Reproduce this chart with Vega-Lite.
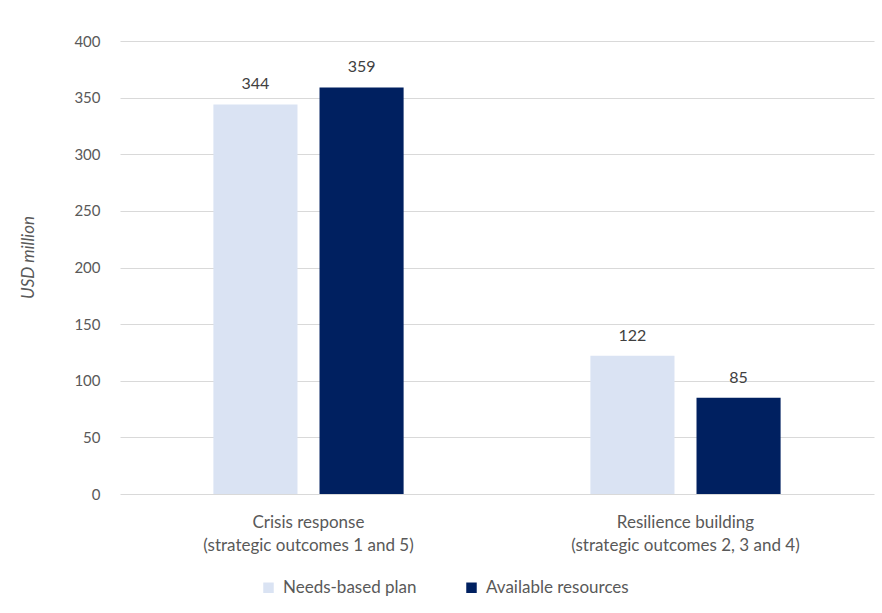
{
  "$schema": "https://vega.github.io/schema/vega-lite/v6.json",
  "width": 754,
  "height": 453,
  "autosize": {"type": "none"},
  "padding": {"left": 120, "top": 41, "right": 8, "bottom": 119},
  "background": "white",
  "config": {
    "font": "Lato",
    "view": {"stroke": null}
  },
  "data": {
    "values": [
      {"category": "Crisis response|(strategic outcomes 1 and 5)", "series": "Needs-based plan", "value": 344},
      {"category": "Crisis response|(strategic outcomes 1 and 5)", "series": "Available resources", "value": 359},
      {"category": "Resilience building|(strategic outcomes 2, 3 and 4)", "series": "Needs-based plan", "value": 122},
      {"category": "Resilience building|(strategic outcomes 2, 3 and 4)", "series": "Available resources", "value": 85}
    ]
  },
  "encoding": {
    "x": {
      "field": "category",
      "type": "nominal",
      "sort": null,
      "title": null,
      "scale": {"paddingInner": 0, "paddingOuter": 0},
      "axis": {
        "labelExpr": "split(datum.label, '|')",
        "labelAngle": 0,
        "labelFontSize": 17,
        "labelColor": "#595959",
        "labelLineHeight": 23,
        "labelPadding": 20,
        "labelLimit": 0,
        "ticks": false,
        "domain": false,
        "grid": false
      }
    },
    "xOffset": {
      "field": "series",
      "type": "nominal",
      "sort": ["Needs-based plan", "Available resources"],
      "scale": {"paddingInner": 0.2075, "paddingOuter": 0.88}
    },
    "y": {
      "field": "value",
      "type": "quantitative",
      "scale": {"domain": [0, 400]},
      "title": "USD million",
      "axis": {
        "values": [0, 50, 100, 150, 200, 250, 300, 350, 400],
        "labelFontSize": 15,
        "labelColor": "#595959",
        "labelPadding": 20,
        "ticks": false,
        "domain": false,
        "gridColor": "#d9d9d9",
        "gridWidth": 1,
        "titleFontSize": 17,
        "titleFontStyle": "italic",
        "titleFontWeight": "normal",
        "titleColor": "#595959",
        "titleX": -92,
        "titleY": 216,
        "titleAngle": -90,
        "titleAlign": "center",
        "titleBaseline": "middle"
      }
    }
  },
  "layer": [
    {
      "mark": {"type": "bar"},
      "encoding": {
        "color": {
          "field": "series",
          "type": "nominal",
          "sort": ["Needs-based plan", "Available resources"],
          "scale": {"domain": ["Needs-based plan", "Available resources"], "range": ["#dae3f3", "#002060"]},
          "legend": {
            "title": null,
            "orient": "none",
            "direction": "horizontal",
            "legendX": 140,
            "legendY": 538,
            "symbolType": "square",
            "symbolSize": 110,
            "symbolStrokeWidth": 0,
            "labelFontSize": 17,
            "labelColor": "#595959",
            "labelLimit": 0,
            "columnPadding": 46,
            "labelOffset": 6
          }
        }
      }
    },
    {
      "mark": {"type": "text", "baseline": "alphabetic", "dy": -15, "fontSize": 16, "color": "#404040"},
      "encoding": {
        "text": {"field": "value", "type": "quantitative"}
      }
    }
  ]
}
